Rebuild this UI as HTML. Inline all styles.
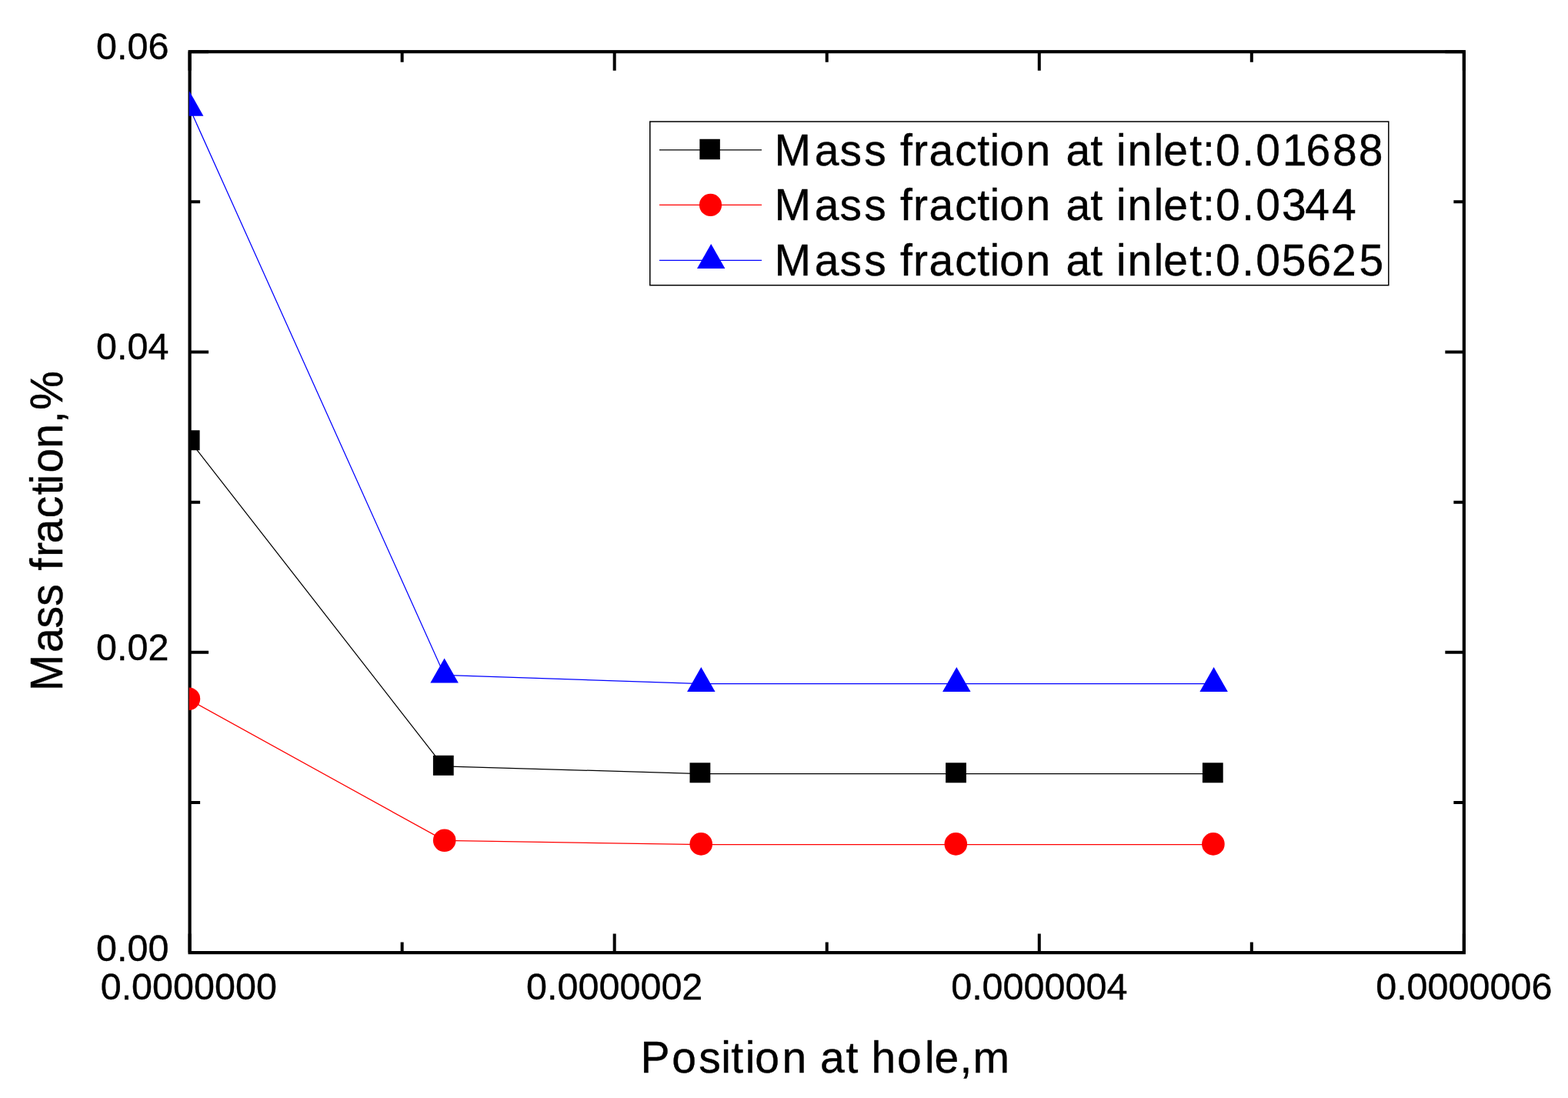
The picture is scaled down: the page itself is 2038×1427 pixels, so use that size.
<!DOCTYPE html>
<html><head><meta charset="utf-8"><title>Mass fraction chart</title>
<style>html,body{margin:0;padding:0;background:#fff;}svg{display:block;}text{font-family:"Liberation Sans",Arial,sans-serif;fill:#000;stroke:#000;stroke-width:0.4px;}</style>
</head><body>
<svg width="2038" height="1427" viewBox="0 0 2038 1427">
<rect x="0" y="0" width="2038" height="1427" fill="#fff"/>
<path d="M246.60 1238.10H271.10M1902.85 1238.10H1878.35M246.60 1042.95H260.10M1902.85 1042.95H1889.35M246.60 847.80H271.10M1902.85 847.80H1878.35M246.60 652.65H260.10M1902.85 652.65H1889.35M246.60 457.50H271.10M1902.85 457.50H1878.35M246.60 262.35H260.10M1902.85 262.35H1889.35M246.60 67.20H271.10M1902.85 67.20H1878.35M246.60 1238.10V1213.60M246.60 67.20V91.70M522.64 1238.10V1224.60M522.64 67.20V80.70M798.68 1238.10V1213.60M798.68 67.20V91.70M1074.72 1238.10V1224.60M1074.72 67.20V80.70M1350.77 1238.10V1213.60M1350.77 67.20V91.70M1626.81 1238.10V1224.60M1626.81 67.20V80.70M1902.85 1238.10V1213.60M1902.85 67.20V91.70" stroke="#000" stroke-width="4" fill="none"/>
<rect x="246.6" y="67.2" width="1656.25" height="1170.90" fill="none" stroke="#000" stroke-width="4.2"/>
<defs><clipPath id="pc"><rect x="245.8" y="0" width="1700" height="1300"/></clipPath></defs>
<g clip-path="url(#pc)">
<path d="M246.20 572.20 L576.30 995.80 L909.90 1005.50 L1242.50 1005.50 L1576.30 1005.50" stroke="#000" stroke-width="1.25" fill="none"/>
<path d="M245.40 909.00 L577.70 1092.40 L911.20 1097.60 L1242.30 1097.60 L1576.90 1097.60" stroke="#f00" stroke-width="1.25" fill="none"/>
<path d="M246.20 140.00 L577.60 877.40 L911.30 888.60 L1243.30 888.60 L1577.60 888.60" stroke="#00f" stroke-width="1.25" fill="none"/>
<rect x="232.80" y="559.20" width="26.80" height="26.00" fill="#000"/>
<rect x="562.90" y="981.80" width="26.80" height="26.00" fill="#000"/>
<rect x="896.50" y="991.30" width="26.80" height="26.00" fill="#000"/>
<rect x="1229.10" y="991.30" width="26.80" height="26.00" fill="#000"/>
<rect x="1562.90" y="991.30" width="26.80" height="26.00" fill="#000"/>
<circle cx="245.40" cy="908.20" r="14.80" fill="#f00"/>
<circle cx="577.70" cy="1092.20" r="14.80" fill="#f00"/>
<circle cx="911.20" cy="1096.90" r="14.80" fill="#f00"/>
<circle cx="1242.30" cy="1096.90" r="14.80" fill="#f00"/>
<circle cx="1576.90" cy="1096.90" r="14.80" fill="#f00"/>
<path d="M246.20 118.60L264.45 150.70L227.95 150.70Z" fill="#00f"/>
<path d="M577.60 855.40L595.85 887.50L559.35 887.50Z" fill="#00f"/>
<path d="M911.30 866.90L929.55 899.00L893.05 899.00Z" fill="#00f"/>
<path d="M1243.30 866.90L1261.55 899.00L1225.05 899.00Z" fill="#00f"/>
<path d="M1577.60 866.90L1595.85 899.00L1559.35 899.00Z" fill="#00f"/>
</g>
<text x="219.5" y="76.7" font-size="48.5" text-anchor="end">0.06</text>
<text x="219.5" y="467.4" font-size="48.5" text-anchor="end">0.04</text>
<text x="219.5" y="858.0" font-size="48.5" text-anchor="end">0.02</text>
<text x="219.5" y="1248.8" font-size="48.5" text-anchor="end">0.00</text>
<text x="245.3" y="1298.9" font-size="48.5" text-anchor="middle">0.0000000</text>
<text x="798.7" y="1298.9" font-size="48.5" text-anchor="middle">0.0000002</text>
<text x="1350.8" y="1298.9" font-size="48.5" text-anchor="middle">0.0000004</text>
<text x="1902.8" y="1298.9" font-size="48.5" text-anchor="middle">0.0000006</text>
<text x="832.4 873.3 908.2 937.3 950.2 968.8 981.2 1016.6 1049.2 1065.9 1099.4 1116.0 1132.5 1166.0 1202.0 1214.5 1247.4 1264.6" y="1394.3" font-size="57">Position at hole,m</text>
<text transform="translate(81.4 900) rotate(-90) scale(1 1.03)" x="1.8 51.9 83.6 112.3 141.7 158.4 176.2 193.7 226.8 256.7 270.8 285.4 317.2 349.9 367.2" y="0" font-size="57">Mass fraction,%</text>
<rect x="844.8" y="158.05" width="960" height="212.65" fill="none" stroke="#000" stroke-width="1.5"/>
<path d="M857 194.8H990" stroke="#000" stroke-width="1.25"/>
<rect x="909.35" y="180.75" width="26.50" height="26.50" fill="#000"/>
<text x="1006.4 1058.7 1091.4 1123.3 1153.0 1170.1 1186.9 1207.4 1241.2 1270.2 1286.4 1299.3 1333.6 1367.4 1385.4 1417.2 1434.1 1451.0 1465.6 1499.5 1512.3 1546.2 1562.9 1579.9 1614.3 1632.3 1666.7 1697.6 1732.1 1765.7" y="214.6" font-size="57">Mass fraction at inlet:0.01688</text>
<path d="M857 266.4H990" stroke="#f00" stroke-width="1.25"/>
<circle cx="923.50" cy="266.40" r="14.60" fill="#f00"/>
<text x="1006.4 1058.7 1091.4 1123.3 1153.0 1170.1 1186.9 1207.4 1241.2 1270.2 1286.4 1299.3 1333.6 1367.4 1385.4 1417.2 1434.1 1451.0 1465.6 1499.5 1512.3 1546.2 1562.9 1579.9 1614.3 1632.3 1665.9 1696.2 1731.0" y="286.3" font-size="57">Mass fraction at inlet:0.0344</text>
<path d="M857 338.3H990" stroke="#00f" stroke-width="1.25"/>
<path d="M924.20 317.03L942.40 348.93L906.00 348.93Z" fill="#00f"/>
<text x="1006.4 1058.7 1091.4 1123.3 1153.0 1170.1 1186.9 1207.4 1241.2 1270.2 1286.4 1299.3 1333.6 1367.4 1385.4 1417.2 1434.1 1451.0 1465.6 1499.5 1512.3 1546.2 1562.9 1579.9 1614.3 1632.3 1665.8 1698.2 1731.1 1766.5" y="357.9" font-size="57">Mass fraction at inlet:0.05625</text>
</svg>
</body></html>
